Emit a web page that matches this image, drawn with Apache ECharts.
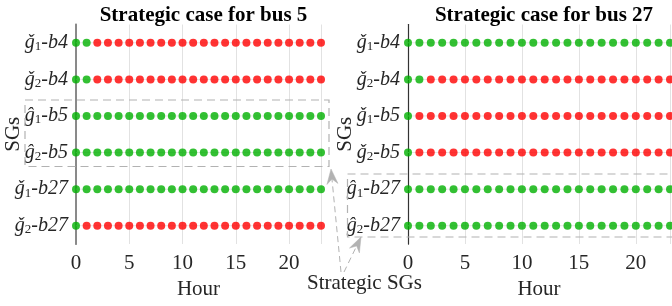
<!DOCTYPE html>
<html>
<head>
<meta charset="utf-8">
<script src="https://cdn.jsdelivr.net/npm/echarts@6/dist/echarts.min.js"></script>
<style>html,body{margin:0;padding:0;background:#fff}#c{width:672px;height:306px}</style>
</head>
<body>
<div id="c"></div>
<script>
// ---- data ----
const hours = [0,1,2,3,4,5,6,7,8,9,10,11,12,13,14,15,16,17,18,19,20,21,22,23];
const xTicks = [0,5,10,15,20];
const titles = ['Strategic case for bus 5', 'Strategic case for bus 27'];

// 1 = on (green), 0 = off (red)
const bus5Rows = ['ǧ1-b4','ǧ2-b4','ĝ1-b5','ĝ2-b5','ǧ1-b27','ǧ2-b27'];
const bus5_g1b4  = [1,1,0,0,0,0,0,0,0,0,0,0,0,0,0,0,0,0,0,0,0,0,0,0];
const bus5_g2b4  = [1,1,0,0,0,0,0,0,0,0,0,0,0,0,0,0,0,0,0,0,0,0,0,0];
const bus5_g1b5  = [1,1,1,1,1,1,1,1,1,1,1,1,1,1,1,1,1,1,1,1,1,1,1,1];
const bus5_g2b5  = [1,1,1,1,1,1,1,1,1,1,1,1,1,1,1,1,1,1,1,1,1,1,1,1];
const bus5_g1b27 = [1,1,1,1,1,1,1,1,1,1,1,1,1,1,1,1,1,1,1,1,1,1,1,1];
const bus5_g2b27 = [1,0,0,0,0,0,0,0,0,0,0,0,0,0,0,0,0,0,0,0,0,0,0,0];

const bus27Rows = ['ǧ1-b4','ǧ2-b4','ǧ1-b5','ǧ2-b5','ĝ1-b27','ĝ2-b27'];
const bus27_g1b4  = [1,1,1,1,1,1,1,1,1,1,1,1,1,1,1,1,1,1,1,1,1,1,1,1];
const bus27_g2b4  = [1,1,0,0,0,0,0,0,0,0,0,0,0,0,0,0,0,0,0,0,0,0,0,0];
const bus27_g1b5  = [1,0,0,0,0,0,0,0,0,0,0,0,0,0,0,0,0,0,0,0,0,0,0,0];
const bus27_g2b5  = [1,0,0,0,0,0,0,0,0,0,0,0,0,0,0,0,0,0,0,0,0,0,0,0];
const bus27_g1b27 = [1,1,1,1,1,1,1,1,1,1,1,1,1,1,1,1,1,1,1,1,1,1,1,1];
const bus27_g2b27 = [1,1,1,1,1,1,1,1,1,1,1,1,1,1,1,1,1,1,1,1,1,1,1,1];

const bus5Status  = [bus5_g1b4, bus5_g2b4, bus5_g1b5, bus5_g2b5, bus5_g1b27, bus5_g2b27];
const bus27Status = [bus27_g1b4, bus27_g2b4, bus27_g1b5, bus27_g2b5, bus27_g1b27, bus27_g2b27];

// ---- styling ----
const FF = "'Liberation Serif','Times New Roman',serif";
const TXT = '#262626';
const GREEN = '#00b000', RED = '#ff0000';

function fmt(v){
  const m = v.match(/^(.)(\d)-(.*)$/);
  return '{g|' + m[1] + '}{s|' + m[2] + '}{t|-}{b|' + m[3] + '}';
}
const rich = {
  g: {fontFamily: FF, fontStyle: 'italic', fontSize: 20, color: TXT},
  s: {fontFamily: FF, fontSize: 13, color: TXT, padding: [8,0,0,0]},
  t: {fontFamily: FF, fontSize: 20, color: TXT},
  b: {fontFamily: FF, fontStyle: 'italic', fontSize: 20, color: TXT}
};

const grids = [
  {left: 76, right: 351, top: 24.5, bottom: 62, outerBoundsMode: 'none', containLabel: false},
  {left: 408, right: 2, top: 24.5, bottom: 62, outerBoundsMode: 'none', containLabel: false}
];
const sideColor = ['#8a8a8a', '#333333'];
const sideWidth = [2, 1.2];

const xAxes = [], yAxes = [], series = [];
[bus5Rows, bus27Rows].forEach((rows, gi) => {
  const status = gi === 0 ? bus5Status : bus27Status;
  xAxes.push({
    gridIndex: gi, type: 'value', min: hours[0], max: hours[hours.length-1], interval: xTicks[1]-xTicks[0],
    position: 'bottom',
    axisLine: {lineStyle: {color: '#262626', width: 1.2}},
    axisTick: {inside: true, length: 4, lineStyle: {color: '#262626'}},
    axisLabel: {fontFamily: FF, fontSize: 21, color: TXT, margin: 9, showMaxLabel: false},
    splitLine: {show: true, lineStyle: {color: '#e2e2e2', width: 1}},
    name: 'Hour', nameLocation: 'middle', nameGap: 35, nameMoveOverlap: false,
    nameTextStyle: {fontFamily: FF, fontSize: 21, color: TXT}
  });
  xAxes.push({
    gridIndex: gi, type: 'value', min: hours[0], max: hours[hours.length-1], interval: xTicks[1]-xTicks[0],
    position: 'top',
    axisLine: {lineStyle: {color: '#262626', width: 1.2}},
    axisTick: {inside: true, length: 4, lineStyle: {color: '#262626'}},
    axisLabel: {show: false}, splitLine: {show: false}
  });
  yAxes.push({
    gridIndex: gi, type: 'category', data: rows, inverse: true, position: 'left',
    axisLine: {lineStyle: {color: sideColor[gi], width: sideWidth[gi]}},
    axisTick: {show: false},
    axisLabel: {formatter: fmt, rich: rich, margin: 8},
    splitLine: {show: false},
    name: 'SGs', nameLocation: 'middle', nameGap: 52, nameRotate: 90, nameMoveOverlap: false,
    nameTextStyle: {fontFamily: FF, fontSize: 21, color: TXT}
  });
  yAxes.push({
    gridIndex: gi, type: 'category', data: rows, inverse: true, position: 'right',
    axisLine: {lineStyle: {color: sideColor[gi], width: sideWidth[gi] * 0.8}},
    axisTick: {show: false}, axisLabel: {show: false}, splitLine: {show: false}
  });
  rows.forEach((lab) => {
    series.push({
      type: 'line', xAxisIndex: gi*2, yAxisIndex: gi*2, silent: true, z: 1,
      symbol: 'none', lineStyle: {color: '#e6e6e6', width: 1},
      data: hours.map(h => [h, lab])
    });
  });
  const pts = [];
  rows.forEach((lab, ri) => {
    hours.forEach((h, hi) => {
      pts.push({value: [h, lab], itemStyle: {color: status[ri][hi] ? GREEN : RED}});
    });
  });
  series.push({
    type: 'scatter', xAxisIndex: gi*2, yAxisIndex: gi*2, z: 3,
    symbol: 'circle', symbolSize: 8, data: pts, clip: false
  });
});

// ---- annotation graphics ----
const GRAY = '#b2b2b2';
function arrow(x1, y1, x2, y2){
  const dx = x2 - x1, dy = y2 - y1, L = Math.hypot(dx, dy);
  const ux = dx / L, uy = dy / L, px = -uy, py = ux;
  const hl = 15, hw = 5.5, nl = 10;
  const bx = x2 - ux*hl, by = y2 - uy*hl;
  const nx = x2 - ux*nl, ny = y2 - uy*nl;
  return [
    {type: 'polyline', shape: {points: [[x1, y1], [nx, ny]]},
     style: {stroke: GRAY, lineWidth: 1, lineDash: [6, 4], fill: null}, z: 100},
    {type: 'polygon', shape: {points: [[x2, y2], [bx + px*hw, by + py*hw], [nx, ny], [bx - px*hw, by - py*hw]]},
     style: {fill: GRAY, stroke: GRAY, lineWidth: 0.5}, z: 100}
  ];
}
const graphic = [
  {type: 'rect', shape: {x: 25, y: 100, width: 304, height: 66.5},
   style: {fill: null, stroke: GRAY, lineWidth: 1.2, lineDash: [8, 5]}, z: 100},
  {type: 'rect', shape: {x: 347.5, y: 174, width: 340, height: 63},
   style: {fill: null, stroke: GRAY, lineWidth: 1.2, lineDash: [8, 5]}, z: 100},
  {type: 'text', left: 307, top: 273,
   style: {text: 'Strategic SGs', fontFamily: FF, fontSize: 21, fill: TXT}, z: 101}
].concat(arrow(341, 272, 331, 169), arrow(344, 272, 361, 237));

const chart = echarts.init(document.getElementById('c'), null, {renderer: 'canvas'});
chart.setOption({
  animation: false,
  backgroundColor: '#ffffff',
  title: titles.map((t, i) => ({
    text: t, left: i === 0 ? 198.5 : 539, top: 0, textAlign: 'center',
    textStyle: {fontFamily: FF, fontSize: 21, fontWeight: 'bold', color: '#000'}
  })),
  grid: grids,
  xAxis: xAxes,
  yAxis: yAxes,
  series: series,
  graphic: graphic
});
</script>
</body>
</html>
